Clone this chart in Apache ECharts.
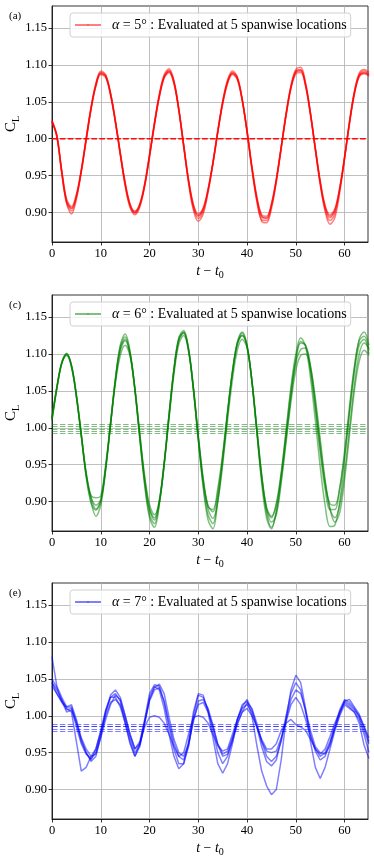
<!DOCTYPE html>
<html>
<head>
<meta charset="utf-8">
<script src="https://cdn.jsdelivr.net/npm/echarts@6/dist/echarts.min.js"></script>
<style>
  html, body { margin: 0; padding: 0; background: #fff; }
  #chart { width: 374px; height: 860px; }
</style>
</head>
<body>
<div id="chart"></div>
<script>
// time axis t - t0
const t = [0,1,2,3,4,5,6,7,8,9,10,11,12,13,14,15,16,17,18,19,20,21,22,23,24,25,26,27,28,29,30,31,32,33,34,35,36,37,38,39,40,41,42,43,44,45,46,47,48,49,50,51,52,53,54,55,56,57,58,59,60,61,62,63,64,65];

// (a) alpha = 5 deg, C_L at 5 spanwise locations
const aL1 = [1.024,1.003,0.955,0.915,0.905,0.922,0.956,0.999,1.041,1.073,1.089,1.085,1.061,1.024,0.980,0.939,0.910,0.900,0.910,0.937,0.977,1.020,1.058,1.084,1.092,1.077,1.040,0.991,0.943,0.908,0.895,0.904,0.930,0.967,1.010,1.049,1.077,1.089,1.082,1.053,1.010,0.961,0.919,0.894,0.892,0.910,0.944,0.988,1.033,1.070,1.091,1.093,1.073,1.034,0.987,0.941,0.907,0.893,0.902,0.932,0.975,1.022,1.062,1.086,1.090,1.087];
const aL2 = [1.022,1.004,0.953,0.912,0.898,0.918,0.955,0.998,1.042,1.075,1.092,1.087,1.062,1.023,0.978,0.936,0.907,0.897,0.907,0.935,0.976,1.021,1.060,1.087,1.095,1.079,1.040,0.989,0.940,0.903,0.888,0.898,0.927,0.966,1.011,1.051,1.080,1.092,1.084,1.054,1.009,0.958,0.915,0.888,0.886,0.905,0.941,0.987,1.034,1.072,1.094,1.097,1.076,1.035,0.985,0.938,0.902,0.884,0.893,0.927,0.973,1.023,1.064,1.089,1.094,1.090];
const aL3 = [1.025,1.005,0.957,0.918,0.908,0.925,0.958,1.000,1.040,1.071,1.087,1.083,1.059,1.023,0.981,0.941,0.912,0.902,0.912,0.939,0.978,1.019,1.056,1.082,1.090,1.075,1.039,0.992,0.945,0.911,0.898,0.906,0.932,0.968,1.009,1.047,1.075,1.087,1.080,1.052,1.011,0.963,0.922,0.897,0.895,0.912,0.946,0.989,1.032,1.068,1.088,1.090,1.071,1.033,0.988,0.943,0.910,0.897,0.905,0.934,0.976,1.021,1.060,1.084,1.088,1.085];
const aL4 = [1.023,1.002,0.954,0.913,0.902,0.920,0.957,1.001,1.043,1.074,1.090,1.086,1.062,1.025,0.981,0.938,0.908,0.899,0.909,0.938,0.979,1.022,1.059,1.085,1.093,1.078,1.041,0.992,0.942,0.906,0.892,0.901,0.929,0.968,1.011,1.050,1.078,1.090,1.083,1.054,1.011,0.960,0.917,0.890,0.889,0.908,0.943,0.989,1.034,1.071,1.092,1.094,1.074,1.035,0.986,0.939,0.904,0.889,0.898,0.930,0.974,1.023,1.063,1.087,1.092,1.088];
const aL5 = [1.024,1.004,0.956,0.916,0.906,0.923,0.955,0.997,1.039,1.072,1.088,1.084,1.060,1.022,0.979,0.940,0.911,0.901,0.911,0.936,0.975,1.018,1.057,1.083,1.091,1.076,1.038,0.990,0.944,0.910,0.896,0.905,0.931,0.966,1.008,1.048,1.076,1.088,1.081,1.052,1.008,0.960,0.920,0.895,0.893,0.911,0.945,0.987,1.031,1.069,1.090,1.092,1.072,1.032,0.986,0.942,0.908,0.895,0.903,0.933,0.974,1.020,1.061,1.085,1.089,1.086];
const aMeans = [1.000, 1.000, 0.999, 1.000, 1.001];

// (c) alpha = 6 deg
const cL1 = [1.012,1.055,1.088,1.100,1.083,1.043,0.990,0.937,0.905,0.890,0.901,0.946,1.006,1.065,1.107,1.120,1.100,1.052,0.989,0.929,0.889,0.878,0.902,0.953,1.017,1.078,1.119,1.129,1.105,1.052,0.986,0.927,0.893,0.889,0.918,0.965,1.023,1.076,1.114,1.128,1.110,1.062,0.996,0.933,0.890,0.878,0.898,0.940,0.995,1.051,1.095,1.117,1.111,1.077,1.025,0.967,0.917,0.889,0.889,0.918,0.969,1.029,1.083,1.118,1.124,1.105];
const cL2 = [1.010,1.053,1.087,1.101,1.085,1.045,0.992,0.935,0.900,0.880,0.895,0.942,1.004,1.066,1.112,1.127,1.104,1.052,0.985,0.922,0.878,0.865,0.895,0.950,1.018,1.080,1.122,1.132,1.108,1.053,0.984,0.920,0.875,0.863,0.900,0.955,1.018,1.075,1.116,1.130,1.112,1.062,0.994,0.925,0.878,0.863,0.888,0.935,0.995,1.055,1.100,1.122,1.110,1.068,1.010,0.947,0.895,0.866,0.868,0.900,0.958,1.022,1.080,1.120,1.130,1.112];
const cL3 = [1.014,1.056,1.088,1.098,1.082,1.042,0.990,0.940,0.908,0.905,0.908,0.950,1.005,1.060,1.098,1.112,1.097,1.052,0.992,0.935,0.896,0.882,0.900,0.950,1.012,1.072,1.113,1.125,1.104,1.054,0.990,0.932,0.890,0.877,0.900,0.950,1.010,1.065,1.105,1.120,1.108,1.063,1.000,0.937,0.890,0.872,0.882,0.925,0.980,1.035,1.078,1.098,1.100,1.082,1.040,0.985,0.930,0.890,0.872,0.885,0.930,0.990,1.050,1.090,1.105,1.098];
const cL4 = [1.013,1.054,1.087,1.099,1.084,1.044,0.991,0.938,0.906,0.895,0.903,0.944,1.003,1.063,1.104,1.118,1.100,1.054,0.991,0.931,0.890,0.875,0.898,0.950,1.015,1.077,1.118,1.128,1.106,1.054,0.988,0.930,0.895,0.886,0.912,0.960,1.020,1.074,1.112,1.125,1.110,1.064,0.998,0.935,0.892,0.880,0.895,0.935,0.988,1.043,1.088,1.106,1.108,1.080,1.030,0.972,0.925,0.897,0.895,0.918,0.962,1.020,1.075,1.112,1.120,1.100];
const cL5 = [1.011,1.054,1.089,1.100,1.084,1.043,0.989,0.934,0.898,0.888,0.900,0.945,1.006,1.066,1.110,1.123,1.102,1.051,0.986,0.925,0.882,0.870,0.898,0.952,1.018,1.079,1.121,1.130,1.106,1.051,0.983,0.922,0.882,0.870,0.905,0.958,1.020,1.076,1.115,1.125,1.111,1.063,0.996,0.930,0.884,0.865,0.885,0.930,0.985,1.042,1.090,1.115,1.112,1.085,1.035,0.978,0.925,0.890,0.878,0.895,0.940,0.998,1.058,1.100,1.115,1.108];
const cMeans = [1.005, 1.002, 0.998, 0.995, 0.992];

// (e) alpha = 7 deg
const eL1 = [1.045,1.035,1.022,1.008,1.010,0.985,0.962,0.948,0.942,0.950,0.975,1.000,1.018,1.022,1.015,0.995,0.970,0.950,0.960,0.990,1.020,1.035,1.038,1.020,0.990,0.962,0.945,0.940,0.960,0.995,1.015,1.018,1.005,0.985,0.962,0.948,0.952,0.970,0.990,1.005,1.010,1.000,0.985,0.965,0.952,0.950,0.952,0.970,0.992,1.015,1.025,1.015,0.995,0.972,0.955,0.945,0.950,0.965,0.985,1.005,1.020,1.015,1.008,1.000,0.985,0.970];
const eL2 = [1.080,1.040,1.025,1.012,1.015,0.995,0.968,0.950,0.938,0.945,0.972,1.005,1.028,1.035,1.025,1.000,0.975,0.955,0.965,0.995,1.030,1.042,1.040,1.018,0.985,0.955,0.935,0.935,0.958,1.000,1.028,1.025,1.008,0.980,0.950,0.935,0.945,0.968,0.995,1.012,1.022,1.008,0.985,0.958,0.938,0.932,0.940,0.968,1.000,1.030,1.045,1.035,1.005,0.975,0.952,0.940,0.945,0.962,0.985,1.008,1.022,1.018,1.010,0.998,0.980,0.962];
const eL3 = [1.040,1.030,1.018,1.010,1.005,0.965,0.925,0.930,0.945,0.955,0.978,1.005,1.025,1.030,1.020,0.990,0.965,0.945,0.958,0.990,1.025,1.040,1.035,1.010,0.975,0.945,0.928,0.935,0.965,1.005,1.030,1.028,1.005,0.970,0.935,0.922,0.935,0.962,0.995,1.015,1.020,1.000,0.960,0.925,0.905,0.893,0.900,0.940,0.995,1.035,1.055,1.045,1.010,0.965,0.930,0.915,0.930,0.955,0.980,1.000,1.015,1.010,1.005,0.990,0.960,0.942];
const eL4 = [1.045,1.030,1.020,1.005,1.008,0.990,0.965,0.950,0.940,0.955,0.980,1.008,1.025,1.025,1.012,0.990,0.962,0.945,0.962,0.985,0.998,1.000,0.998,0.990,0.975,0.958,0.945,0.950,0.975,0.998,1.000,0.998,0.990,0.975,0.960,0.952,0.955,0.975,0.995,1.010,1.015,1.005,0.985,0.968,0.955,0.955,0.962,0.980,0.990,0.995,0.988,0.985,0.980,0.968,0.955,0.948,0.955,0.972,0.990,1.005,1.018,1.012,1.005,0.995,0.975,0.950];
const eL5 = [1.050,1.038,1.020,1.012,1.012,0.992,0.970,0.955,0.945,0.948,0.970,0.995,1.015,1.028,1.022,1.000,0.975,0.955,0.962,0.992,1.022,1.038,1.043,1.030,0.998,0.968,0.950,0.945,0.962,0.992,1.020,1.022,1.010,0.988,0.960,0.945,0.948,0.965,0.988,1.005,1.018,1.010,0.990,0.965,0.945,0.938,0.945,0.965,0.995,1.022,1.035,1.030,1.008,0.980,0.958,0.950,0.948,0.960,0.982,1.002,1.020,1.022,1.012,1.002,0.985,0.965];
const eMeans = [0.989, 0.986, 0.986, 0.982, 0.979];

const yTicks = [0.90, 0.95, 1.00, 1.05, 1.10, 1.15];
const xTicks = [0, 10, 20, 30, 40, 50, 60];

const panels = [
  { label: '(a)', alpha: '5', color: 'rgba(255,0,0,0.5)', lines: [aL1, aL2, aL3, aL4, aL5], means: aMeans, top: 6 },
  { label: '(c)', alpha: '6', color: 'rgba(0,128,0,0.5)', lines: [cL1, cL2, cL3, cL4, cL5], means: cMeans, top: 295 },
  { label: '(e)', alpha: '7', color: 'rgba(0,0,255,0.5)', lines: [eL1, eL2, eL3, eL4, eL5], means: eMeans, top: 583 }
];

const FONT = '"Liberation Serif", "DejaVu Serif", serif';
const H = 236;

const option = {
  backgroundColor: '#fff',
  animation: false,
  title: [],
  legend: [],
  grid: [],
  xAxis: [],
  yAxis: [],
  series: []
};

panels.forEach((p, k) => {
  const name = 'α = ' + p.alpha + '° : Evaluated at 5 spanwise locations';
  option.title.push({
    text: p.label, left: 4, top: p.top,
    textStyle: { fontFamily: FONT, fontSize: 11, fontWeight: 'normal', color: '#000' }
  });
  option.grid.push({
    left: 52, top: p.top, width: 316, height: H,
    outerBoundsMode: 'none', containLabel: false,
    show: true, borderColor: '#000', borderWidth: 0.8, backgroundColor: 'transparent'
  });
  option.legend.push({
    data: [name], left: 70, top: p.top + 7,
    itemWidth: 26, itemHeight: 2, itemGap: 0,
    padding: [5, 4, 5, 4],
    backgroundColor: 'rgba(255,255,255,0.8)',
    borderColor: '#d0d0d0', borderWidth: 1, borderRadius: 3,
    formatter: n => '{i|α}' + n.slice(1),
    textStyle: {
      fontFamily: FONT, fontSize: 14, color: '#000', padding: [0, 0, 0, 6],
      rich: { i: { fontFamily: FONT, fontSize: 14, fontStyle: 'italic' } }
    }
  });
  option.xAxis.push({
    type: 'value', gridIndex: k, min: 0, max: 64.8,
    name: '{i|t} − {i|t}{s|0}', nameLocation: 'middle', nameGap: 21, nameMoveOverlap: false,
    nameTextStyle: {
      fontFamily: FONT, fontSize: 14, color: '#000',
      rich: {
        i: { fontFamily: FONT, fontSize: 14, fontStyle: 'italic', lineHeight: 17 },
        s: { fontFamily: FONT, fontSize: 10, verticalAlign: 'bottom', lineHeight: 10 }
      }
    },
    axisLine: { show: true, lineStyle: { color: '#000', width: 0.8 } },
    axisTick: { show: true, length: 3.5, customValues: xTicks, lineStyle: { color: '#000', width: 0.8 } },
    axisLabel: { customValues: xTicks, margin: 5, fontFamily: FONT, fontSize: 12.5, color: '#000' },
    splitLine: { show: true, lineStyle: { color: '#b0b0b0', width: 0.8 } }
  });
  option.yAxis.push({
    type: 'value', gridIndex: k, min: 0.86, max: 1.18,
    name: '{c|C}{s|L}', nameLocation: 'middle', nameGap: 31, nameMoveOverlap: false,
    nameTextStyle: {
      fontFamily: FONT, color: '#000',
      rich: {
        c: { fontFamily: FONT, fontSize: 15, lineHeight: 19 },
        s: { fontFamily: FONT, fontSize: 10, verticalAlign: 'bottom', lineHeight: 10 }
      }
    },
    axisLine: { show: true, lineStyle: { color: '#000', width: 0.8 } },
    axisTick: { show: true, length: 3.5, customValues: yTicks, lineStyle: { color: '#000', width: 0.8 } },
    axisLabel: {
      customValues: yTicks, margin: 5, fontFamily: FONT, fontSize: 12.5, color: '#000',
      formatter: v => v.toFixed(2)
    },
    splitLine: { show: true, lineStyle: { color: '#b0b0b0', width: 0.8 } }
  });
  p.lines.forEach((line, i) => {
    option.series.push({
      type: 'line', name: name, xAxisIndex: k, yAxisIndex: k,
      data: t.map((x, j) => [x, line[j]]),
      showSymbol: false, symbol: 'none', smooth: k < 2 ? 0.35 : false,
      clip: true, silent: true,
      lineStyle: { color: p.color, width: 1.5 },
      itemStyle: { color: p.color },
      markLine: {
        silent: true, symbol: 'none', precision: 4, label: { show: false },
        lineStyle: { color: p.color, width: 1.2, type: [5.5, 2.4] },
        data: [{ yAxis: p.means[i] }]
      }
    });
  });
});

const chart = echarts.init(document.getElementById('chart'), null, { renderer: 'canvas' });
chart.setOption(option);
</script>
</body>
</html>
